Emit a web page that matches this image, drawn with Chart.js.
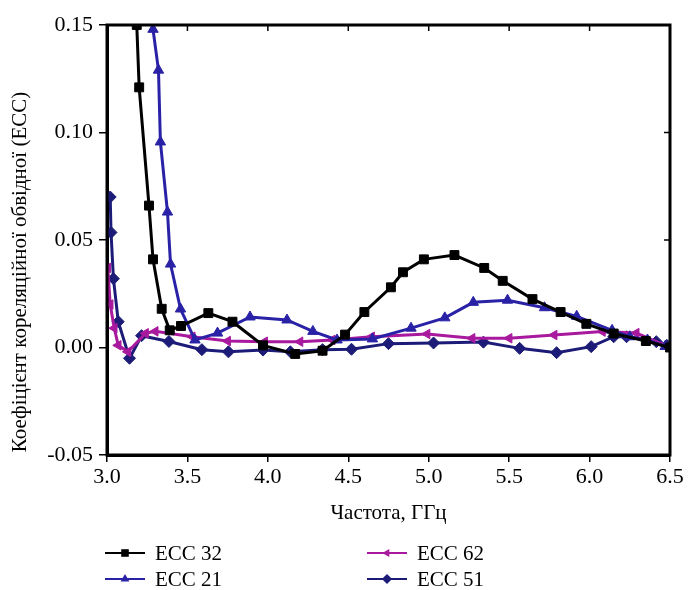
<!DOCTYPE html>
<html>
<head>
<meta charset="utf-8">
<script src="https://cdn.jsdelivr.net/npm/chart.js@4/dist/chart.umd.min.js"></script>
<style>
  html, body { margin: 0; padding: 0; background: #fff; }
  #wrap { width: 693px; height: 590px; position: relative; }
</style>
</head>
<body>
<div id="wrap"><canvas id="c" width="693" height="590"></canvas></div>
<script>
// Envelope correlation coefficient (ECC) versus frequency, GHz
const ecc32Freq = [3.185, 3.20, 3.261, 3.286, 3.34, 3.39, 3.46, 3.63, 3.78, 3.97, 4.17, 4.34, 4.48, 4.60, 4.765, 4.84, 4.97, 5.16, 5.345, 5.46, 5.645, 5.82, 5.98, 6.15, 6.35, 6.5];
const ecc32Vals = [0.150, 0.121, 0.066, 0.041, 0.018, 0.008, 0.010, 0.016, 0.012, 0.001, -0.003, -0.0015, 0.006, 0.0165, 0.028, 0.035, 0.041, 0.043, 0.037, 0.031, 0.0225, 0.0165, 0.011, 0.0065, 0.003, 0.0];

const ecc21Freq = [3.286, 3.32, 3.332, 3.376, 3.395, 3.457, 3.547, 3.687, 3.889, 4.119, 4.28, 4.43, 4.65, 4.89, 5.10, 5.277, 5.49, 5.72, 5.92, 6.14, 6.25, 6.36, 6.47];
const ecc21Vals = [0.148, 0.129, 0.0956, 0.063, 0.0388, 0.0179, 0.0035, 0.0067, 0.0142, 0.0128, 0.0075, 0.0035, 0.004, 0.009, 0.0138, 0.021, 0.022, 0.0185, 0.0145, 0.008, 0.005, 0.0035, 0.0005];

const ecc62Freq = [3.005, 3.02, 3.045, 3.07, 3.13, 3.24, 3.30, 3.53, 3.75, 3.98, 4.2, 4.4, 4.645, 4.99, 5.27, 5.5, 5.78, 6.08, 6.29, 6.5];
const ecc62Vals = [0.037, 0.020, 0.009, 0.001, -0.002, 0.0066, 0.0075, 0.005, 0.003, 0.0027, 0.0027, 0.0035, 0.005, 0.0063, 0.0043, 0.0043, 0.0058, 0.0074, 0.0067, 0.0];

const ecc51Freq = [3.02, 3.025, 3.04, 3.07, 3.14, 3.215, 3.385, 3.59, 3.755, 3.97, 4.14, 4.34, 4.52, 4.75, 5.03, 5.34, 5.565, 5.795, 6.01, 6.15, 6.23, 6.415, 6.48];
const ecc51Vals = [0.070, 0.0535, 0.032, 0.012, -0.005, 0.0055, 0.0028, -0.001, -0.002, -0.0012, -0.002, -0.001, -0.0008, 0.0018, 0.0021, 0.0025, -0.0004, -0.0024, 0.0004, 0.005, 0.005, 0.0027, 0.001];

const xTicks = [3.0, 3.5, 4.0, 4.5, 5.0, 5.5, 6.0, 6.5];
const yTicks = [-0.05, 0.00, 0.05, 0.10, 0.15];

const xTitle = 'Частота, ГГц';
const yTitle = 'Коефіцієнт кореляційної обвідної (ECC)';

const FONT = "'Liberation Serif', 'Times New Roman', serif";

const pairs = (xs, ys) => xs.map((x, i) => ({ x, y: ys[i] }));

const series = [
  { label: 'ECC 32', freq: ecc32Freq, vals: ecc32Vals, color: '#000000', style: 'rect', radius: 6.3, rotation: 0 },
  { label: 'ECC 21', freq: ecc21Freq, vals: ecc21Vals, color: '#2a22a6', style: 'triangle', radius: 6, rotation: 0 },
  { label: 'ECC 62', freq: ecc62Freq, vals: ecc62Vals, color: '#a8199e', style: 'triangle', radius: 5.5, rotation: -90 },
  { label: 'ECC 51', freq: ecc51Freq, vals: ecc51Vals, color: '#1c1c78', style: 'rectRot', radius: 6, rotation: 0 }
];

// Legend placement: two columns, two rows
const legendSlots = [
  { x: 105, y: 553 }, // ECC 32
  { x: 105, y: 579 }, // ECC 21
  { x: 367, y: 553 }, // ECC 62
  { x: 367, y: 579 }  // ECC 51
];

function legendMarker(ctx, style, rotation, cx, cy, r) {
  ctx.beginPath();
  if (style === 'rect') {
    const s = r * Math.SQRT1_2;
    ctx.rect(cx - s, cy - s, 2 * s, 2 * s);
  } else if (style === 'rectRot') {
    ctx.moveTo(cx, cy - r); ctx.lineTo(cx + r, cy); ctx.lineTo(cx, cy + r); ctx.lineTo(cx - r, cy);
    ctx.closePath();
  } else if (style === 'triangle') {
    const a = rotation * Math.PI / 180;
    for (let k = 0; k < 3; k++) {
      const t = a - Math.PI / 2 + k * 2 * Math.PI / 3;
      const px = cx + Math.cos(t) * r, py = cy + Math.sin(t) * r;
      if (k === 0) ctx.moveTo(px, py); else ctx.lineTo(px, py);
    }
    ctx.closePath();
  }
  ctx.fill();
}

const decor = {
  id: 'decor',
  afterDatasetsDraw(chart) {
    const { ctx, chartArea: a, scales } = chart;
    ctx.save();
    // frame around plot area
    ctx.strokeStyle = '#000';
    ctx.lineWidth = 3;
    ctx.strokeRect(a.left, a.top, a.right - a.left, a.bottom - a.top);
    // inward ticks on top and right edges
    ctx.lineWidth = 1.5;
    ctx.beginPath();
    xTicks.forEach(v => {
      const px = scales.x.getPixelForValue(v);
      ctx.moveTo(px, a.top); ctx.lineTo(px, a.top + 6);
    });
    yTicks.forEach(v => {
      const py = scales.y.getPixelForValue(v);
      ctx.moveTo(a.right, py); ctx.lineTo(a.right - 6, py);
    });
    ctx.stroke();
    ctx.restore();
  },
  afterDraw(chart) {
    const { ctx, chartArea: a } = chart;
    ctx.save();
    ctx.fillStyle = '#000';
    // axis titles
    ctx.font = '21px ' + FONT;
    ctx.textAlign = 'center';
    ctx.textBaseline = 'middle';
    ctx.fillText(xTitle, (a.left + a.right) / 2, 513);
    ctx.save();
    ctx.translate(20, 272);
    ctx.rotate(-Math.PI / 2);
    ctx.fillText(yTitle, 0, 0);
    ctx.restore();
    // legend
    ctx.font = '21px ' + FONT;
    ctx.textAlign = 'left';
    series.forEach((s, i) => {
      const p = legendSlots[i];
      ctx.strokeStyle = s.color;
      ctx.fillStyle = s.color;
      ctx.lineWidth = 2.2;
      ctx.beginPath();
      ctx.moveTo(p.x, p.y); ctx.lineTo(p.x + 40, p.y);
      ctx.stroke();
      legendMarker(ctx, s.style, s.rotation, p.x + 20, p.y, s.radius * 0.85);
      ctx.fillStyle = '#000';
      ctx.fillText(s.label, p.x + 50, p.y + 1);
    });
    ctx.restore();
  }
};

new Chart(document.getElementById('c'), {
  type: 'scatter',
  data: {
    datasets: series.map(s => ({
      label: s.label,
      data: pairs(s.freq, s.vals),
      showLine: true,
      borderColor: s.color,
      backgroundColor: s.color,
      borderWidth: 3,
      pointStyle: s.style,
      pointRotation: s.rotation,
      pointRadius: s.radius,
      pointBorderWidth: 1,
      pointBackgroundColor: s.color,
      pointBorderColor: s.color,
      tension: 0
    }))
  },
  options: {
    responsive: false,
    animation: false,
    devicePixelRatio: 1,
    layout: { padding: { top: 25, right: 23, left: 0, bottom: 0 } },
    plugins: { legend: { display: false }, tooltip: { enabled: false } },
    scales: {
      x: {
        type: 'linear',
        min: 3.0, max: 6.5,
        afterBuildTicks: s => { s.ticks = xTicks.map(v => ({ value: v })); },
        afterFit: s => { s.height = 135; },
        ticks: {
          color: '#000',
          font: { family: FONT, size: 22 },
          padding: 2,
          maxRotation: 0,
          callback: v => Number(v).toFixed(1)
        },
        grid: { drawOnChartArea: false, drawTicks: true, tickLength: 7, color: '#000', lineWidth: 1.5 },
        border: { display: true, color: '#000', width: 3 }
      },
      y: {
        type: 'linear',
        min: -0.05, max: 0.15,
        afterBuildTicks: s => { s.ticks = yTicks.map(v => ({ value: v })); },
        afterFit: s => { s.width = 107; },
        ticks: {
          color: '#000',
          font: { family: FONT, size: 22 },
          padding: 6,
          callback: v => Number(v).toFixed(2)
        },
        grid: { drawOnChartArea: false, drawTicks: true, tickLength: 8, color: '#000', lineWidth: 1.5 },
        border: { display: true, color: '#000', width: 3 }
      }
    }
  },
  plugins: [decor]
});
</script>
</body>
</html>
